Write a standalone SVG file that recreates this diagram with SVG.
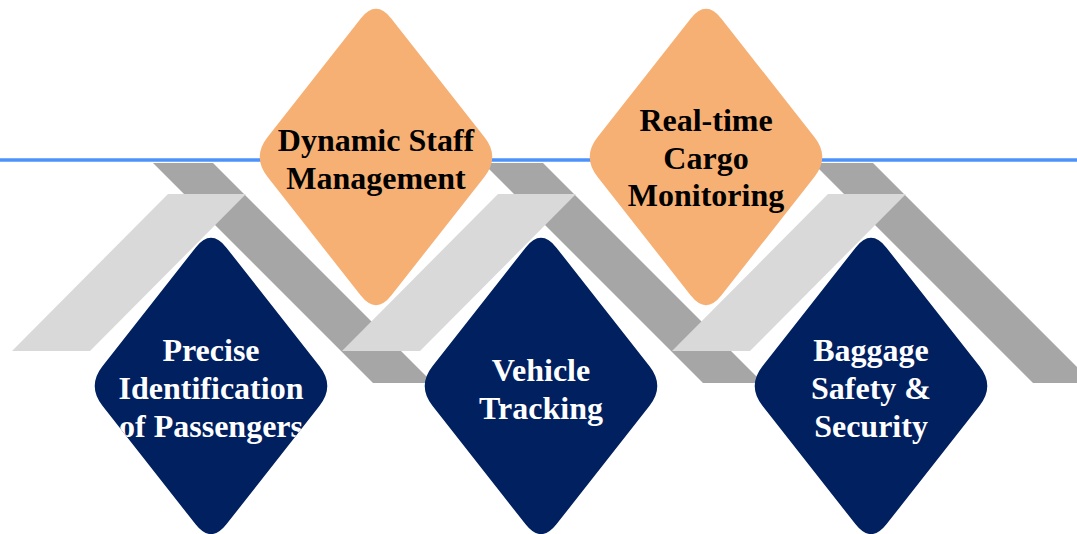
<svg xmlns="http://www.w3.org/2000/svg" xmlns:xlink="http://www.w3.org/1999/xlink" width="1077" height="534" viewBox="0 0 1077 534">
<style>
.dark{fill:#A6A6A6}
.light{fill:#D9D9D9}
.orange{fill:#F7B074}
.navy{fill:#002060}
.lbl{font-family:"Liberation Serif","Times New Roman",serif;font-weight:bold;font-size:32px;text-anchor:middle}
.lo{fill:#000000}
.ln{fill:#FFFFFF}
</style>
<defs>
<path id="dia" d="M15.44,-138.33 L108.56,-19.67 Q124,0 108.56,19.67 L15.44,138.33 Q0,158 -15.44,138.33 L-108.56,19.67 Q-124,0 -108.56,-19.67 L-15.44,-138.33 Q0,-158 15.44,-138.33 Z"/>
<clipPath id="clipDia"><use xlink:href="#dia" href="#dia"/></clipPath>
<path id="darkBand" d="M153,163 L213,163 L433,383 L373,383 Z"/>
<path id="lightBand" d="M168,194 L246,194 L90,351 L12,351 Z"/>
</defs>
<rect x="0" y="0" width="1077" height="534" fill="#FFFFFF"/>
<g id="connectors">
<line x1="0" y1="160" x2="1077" y2="160" stroke="#4D92FB" stroke-width="3.5"/>
<use xlink:href="#darkBand" href="#darkBand" class="dark"/>
<use xlink:href="#darkBand" href="#darkBand" class="dark" transform="translate(330,0)"/>
<use xlink:href="#darkBand" href="#darkBand" class="dark" transform="translate(660,0)"/>
<use xlink:href="#lightBand" href="#lightBand" class="light"/>
<use xlink:href="#lightBand" href="#lightBand" class="light" transform="translate(330,0)"/>
<use xlink:href="#lightBand" href="#lightBand" class="light" transform="translate(660,0)"/>
</g>
<g id="node-dynamic-staff" transform="translate(376,157)">
<use xlink:href="#dia" href="#dia" class="orange"/>
<g clip-path="url(#clipDia)">
<text class="lbl lo" x="0" y="-6">Dynamic Staff</text>
<text class="lbl lo" x="0" y="31.5">Management</text>
</g>
</g>
<g id="node-cargo" transform="translate(706,157)">
<use xlink:href="#dia" href="#dia" class="orange"/>
<g clip-path="url(#clipDia)">
<text class="lbl lo" x="0" y="-26">Real-time</text>
<text class="lbl lo" x="0" y="11.5">Cargo</text>
<text class="lbl lo" x="0" y="49">Monitoring</text>
</g>
</g>
<g id="node-passengers" transform="translate(211,386)">
<use xlink:href="#dia" href="#dia" class="navy"/>
<g clip-path="url(#clipDia)">
<text class="lbl ln" x="0" y="-25.5">Precise</text>
<text class="lbl ln" x="0" y="12.5">Identification</text>
<text class="lbl ln" x="0" y="50.5">of Passengers</text>
</g>
</g>
<g id="node-vehicle" transform="translate(541,386)">
<use xlink:href="#dia" href="#dia" class="navy"/>
<g clip-path="url(#clipDia)">
<text class="lbl ln" x="0" y="-5.5">Vehicle</text>
<text class="lbl ln" x="0" y="32.5">Tracking</text>
</g>
</g>
<g id="node-baggage" transform="translate(871,386)">
<use xlink:href="#dia" href="#dia" class="navy"/>
<g clip-path="url(#clipDia)">
<text class="lbl ln" x="0" y="-25.5">Baggage</text>
<text class="lbl ln" x="0" y="12.5">Safety &amp;</text>
<text class="lbl ln" x="0" y="50.5">Security</text>
</g>
</g>
</svg>
